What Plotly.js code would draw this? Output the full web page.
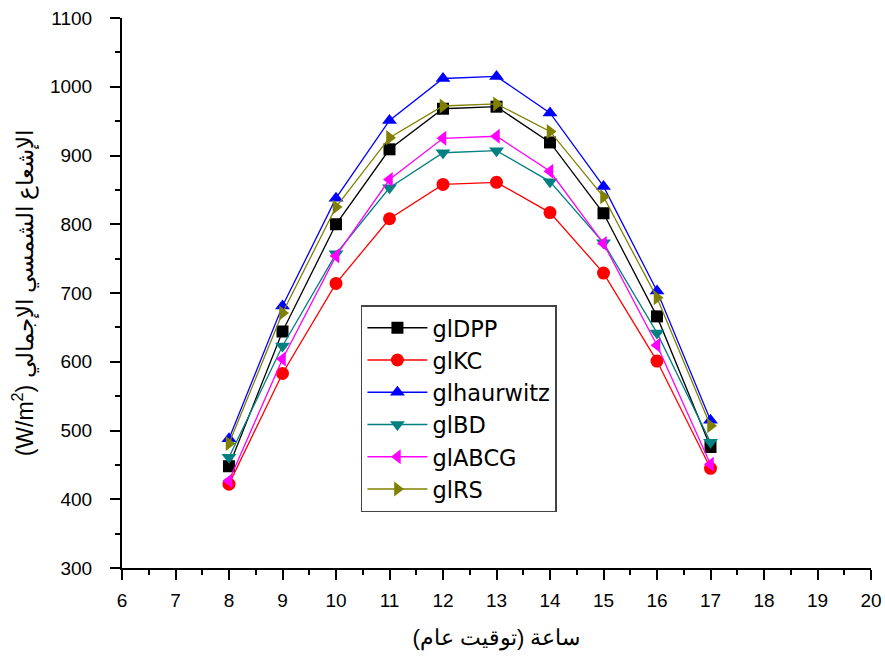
<!DOCTYPE html>
<html>
<head>
<meta charset="utf-8">
<script src="https://cdn.plot.ly/plotly-3.0.1.min.js"></script>
<style>html,body{margin:0;padding:0;background:#fff;}#chart{width:885px;height:658px;}</style>
</head>
<body>
<div id="chart"></div>
<script>
const hours = [8, 9, 10, 11, 12, 13, 14, 15, 16, 17];
const glDPP = [448, 644, 800, 909, 968, 971, 919, 816, 666, 476];
const glKC = [422, 583, 714, 808, 858, 861, 817, 729, 601, 445];
const glhaurwitz = [488, 681, 838, 951, 1012, 1015, 962, 855, 703, 515];
const glBD = [461, 623, 757, 853, 904, 907, 862, 773, 642, 483];
const glABCG = [427, 604, 754, 865, 925, 928, 877, 772, 624, 451];
const glRS = [481, 671, 825, 926, 972, 975, 935, 840, 693, 507];

const seriesNames = ["glDPP", "glKC", "glhaurwitz", "glBD", "glABCG", "glRS"];
const seriesValues = [glDPP, glKC, glhaurwitz, glBD, glABCG, glRS];
const colors = ["#000000", "#ff0000", "#0000ff", "#008080", "#ff00ff", "#808000"];
const symbols = ["square", "circle", "triangle-up", "triangle-down", "triangle-left", "triangle-right"];

const traces = seriesNames.map((n, i) => ({
  x: hours, y: seriesValues[i], name: n, type: "scatter", mode: "lines+markers",
  line: {color: colors[i], width: 1.3},
  marker: {color: colors[i], symbol: symbols[i], size: symbols[i] === "square" ? 12 : 13, line: {width: 0}}
}));

const layout = {
  width: 885, height: 658,
  margin: {l: 122, r: 14, t: 18, b: 90},
  paper_bgcolor: "#fff", plot_bgcolor: "#fff",
  font: {family: "Liberation Sans, Arial, sans-serif", color: "#000"},
  showlegend: true,
  legend: {
    x: 0.319, y: 0.478, xanchor: "left", yanchor: "top",
    bordercolor: "#444", borderwidth: 1.5, bgcolor: "#fff",
    font: {family: "DejaVu Sans, sans-serif", size: 22.5, color: "#000"}, itemwidth: 60,
    tracegroupgap: 0
  },
  xaxis: {
    range: [6, 20], dtick: 1, tick0: 6,
    showgrid: false, zeroline: false,
    showline: true, linecolor: "#000", linewidth: 2,
    ticks: "outside", ticklen: 10, tickwidth: 1.5, tickcolor: "#000",
    minor: {dtick: 0.5, ticks: "outside", ticklen: 5, tickwidth: 1.5, tickcolor: "#000", showgrid: false},
    tickfont: {size: 19}, ticklabelstandoff: 4,
    title: {text: "ساعة (توقيت عام)", font: {size: 22}, standoff: 20}
  },
  yaxis: {
    range: [300, 1100], dtick: 100, tick0: 300,
    showgrid: false, zeroline: false,
    showline: true, linecolor: "#000", linewidth: 2,
    ticks: "outside", ticklen: 10, tickwidth: 1.5, tickcolor: "#000",
    minor: {dtick: 50, ticks: "outside", ticklen: 5, tickwidth: 1.5, tickcolor: "#000", showgrid: false},
    tickfont: {size: 19}, ticklabelstandoff: 14,
    title: {text: "(W/m<sup>2</sup>) الإشعاع الشمسي الإجمالي", font: {size: 23}, standoff: 10}
  }
};

Plotly.newPlot("chart", traces, layout, {displayModeBar: false, responsive: false});
</script>
</body>
</html>
